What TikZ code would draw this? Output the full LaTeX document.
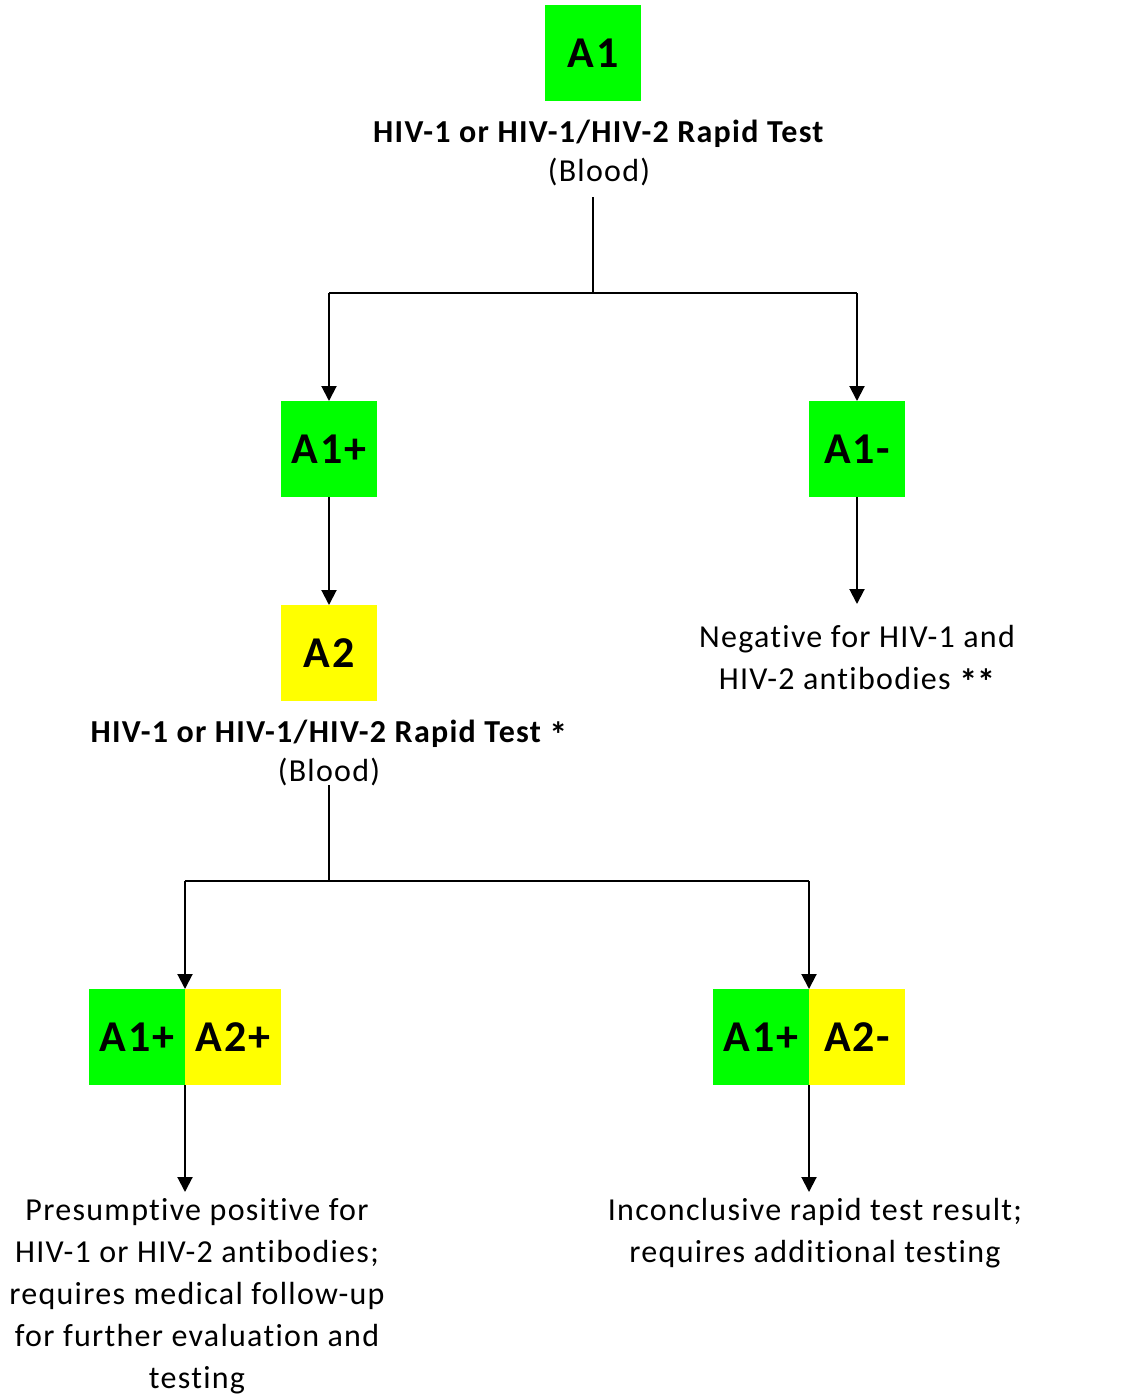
\documentclass[tikz,border=0pt]{standalone}
\usepackage{fontspec}
\setmainfont{Carlito}[LetterSpace=4,Ligatures=NoCommon]
\usetikzlibrary{arrows.meta}
\definecolor{bgreen}{RGB}{0,255,0}
\definecolor{byellow}{RGB}{255,255,0}
\newcommand\myast{\smash{\raisebox{-5pt}{\fontsize{36}{0}\selectfont\bfseries *}}}
\tikzset{
  box/.style={minimum width=96pt,minimum height=96pt,inner sep=0pt,outer sep=0pt,font=\fontsize{44}{50}\selectfont\bfseries},
  gbox/.style={box,fill=bgreen},
  ybox/.style={box,fill=byellow},
  ttl/.style={font=\fontsize{32}{39}\selectfont,inner sep=0pt,align=center,anchor=base},
  txt/.style={font=\fontsize{32}{42}\selectfont,inner sep=0pt,align=center},
  conn/.style={line width=2pt},
  arr/.style={line width=2pt,-{Triangle[length=15pt,width=15pt]}}
}
\begin{document}
\begin{tikzpicture}[x=1pt,y=-1pt]
\useasboundingbox (0,0) rectangle (1120,1397);
% top
\node[gbox] (a1) at (593,53) {A1};
\node[ttl] (t1) at (599,181) {\textbf{HIV-1 or HIV-1/HIV-2 Rapid Test}\\(Blood)};
\coordinate (s1) at (593,197);
\coordinate (j1) at (593,293);
\coordinate (l1) at (329,293);
\coordinate (r1) at (857,293);
\node[gbox] (a1p) at (329,449) {A1+};
\node[gbox] (a1m) at (857,449) {A1-};
\draw[conn] (s1) -- (j1);
\draw[conn] (l1) -- (r1);
\draw[arr] (l1) -- (a1p.north);
\draw[arr] (r1) -- (a1m.north);
% middle
\node[ybox] (a2) at (329,653) {A2};
\draw[arr] (a1p.south) -- (a2.north);
\node[txt] (neg) at (857,657) {Negative for HIV-1 and\\HIV-2 antibodies \myast\myast};
\coordinate (negtop) at (857,604);
\draw[arr] (a1m.south) -- (negtop);
\node[ttl] (t2) at (329,781) {\textbf{HIV-1 or HIV-1/HIV-2 Rapid Test \myast}\\(Blood)};
\coordinate (s2) at (329,785);
\coordinate (j2) at (329,881);
\coordinate (l2) at (185,881);
\coordinate (r2) at (809,881);
\draw[conn] (s2) -- (j2) (l2) -- (r2);
\node[gbox] (c1) at (137,1037) {A1+};
\node[ybox] (c2) at (233,1037) {A2+};
\node[gbox] (d1) at (761,1037) {A1+};
\node[ybox] (d2) at (857,1037) {A2-};
\draw[arr] (l2) -- (c1.north east);
\draw[arr] (r2) -- (d1.north east);
% bottom
\node[txt] (pos) at (197,1296) {Presumptive positive for\\HIV-1 or HIV-2 antibodies;\\requires medical follow-up\\for further evaluation and\\testing};
\node[txt] (inc) at (815,1233) {Inconclusive rapid test result;\\requires additional testing};
\coordinate (postop) at (185,1192);
\coordinate (inctop) at (809,1192);
\draw[arr] (c1.south east) -- (postop);
\draw[arr] (d1.south east) -- (inctop);
\end{tikzpicture}
\end{document}
